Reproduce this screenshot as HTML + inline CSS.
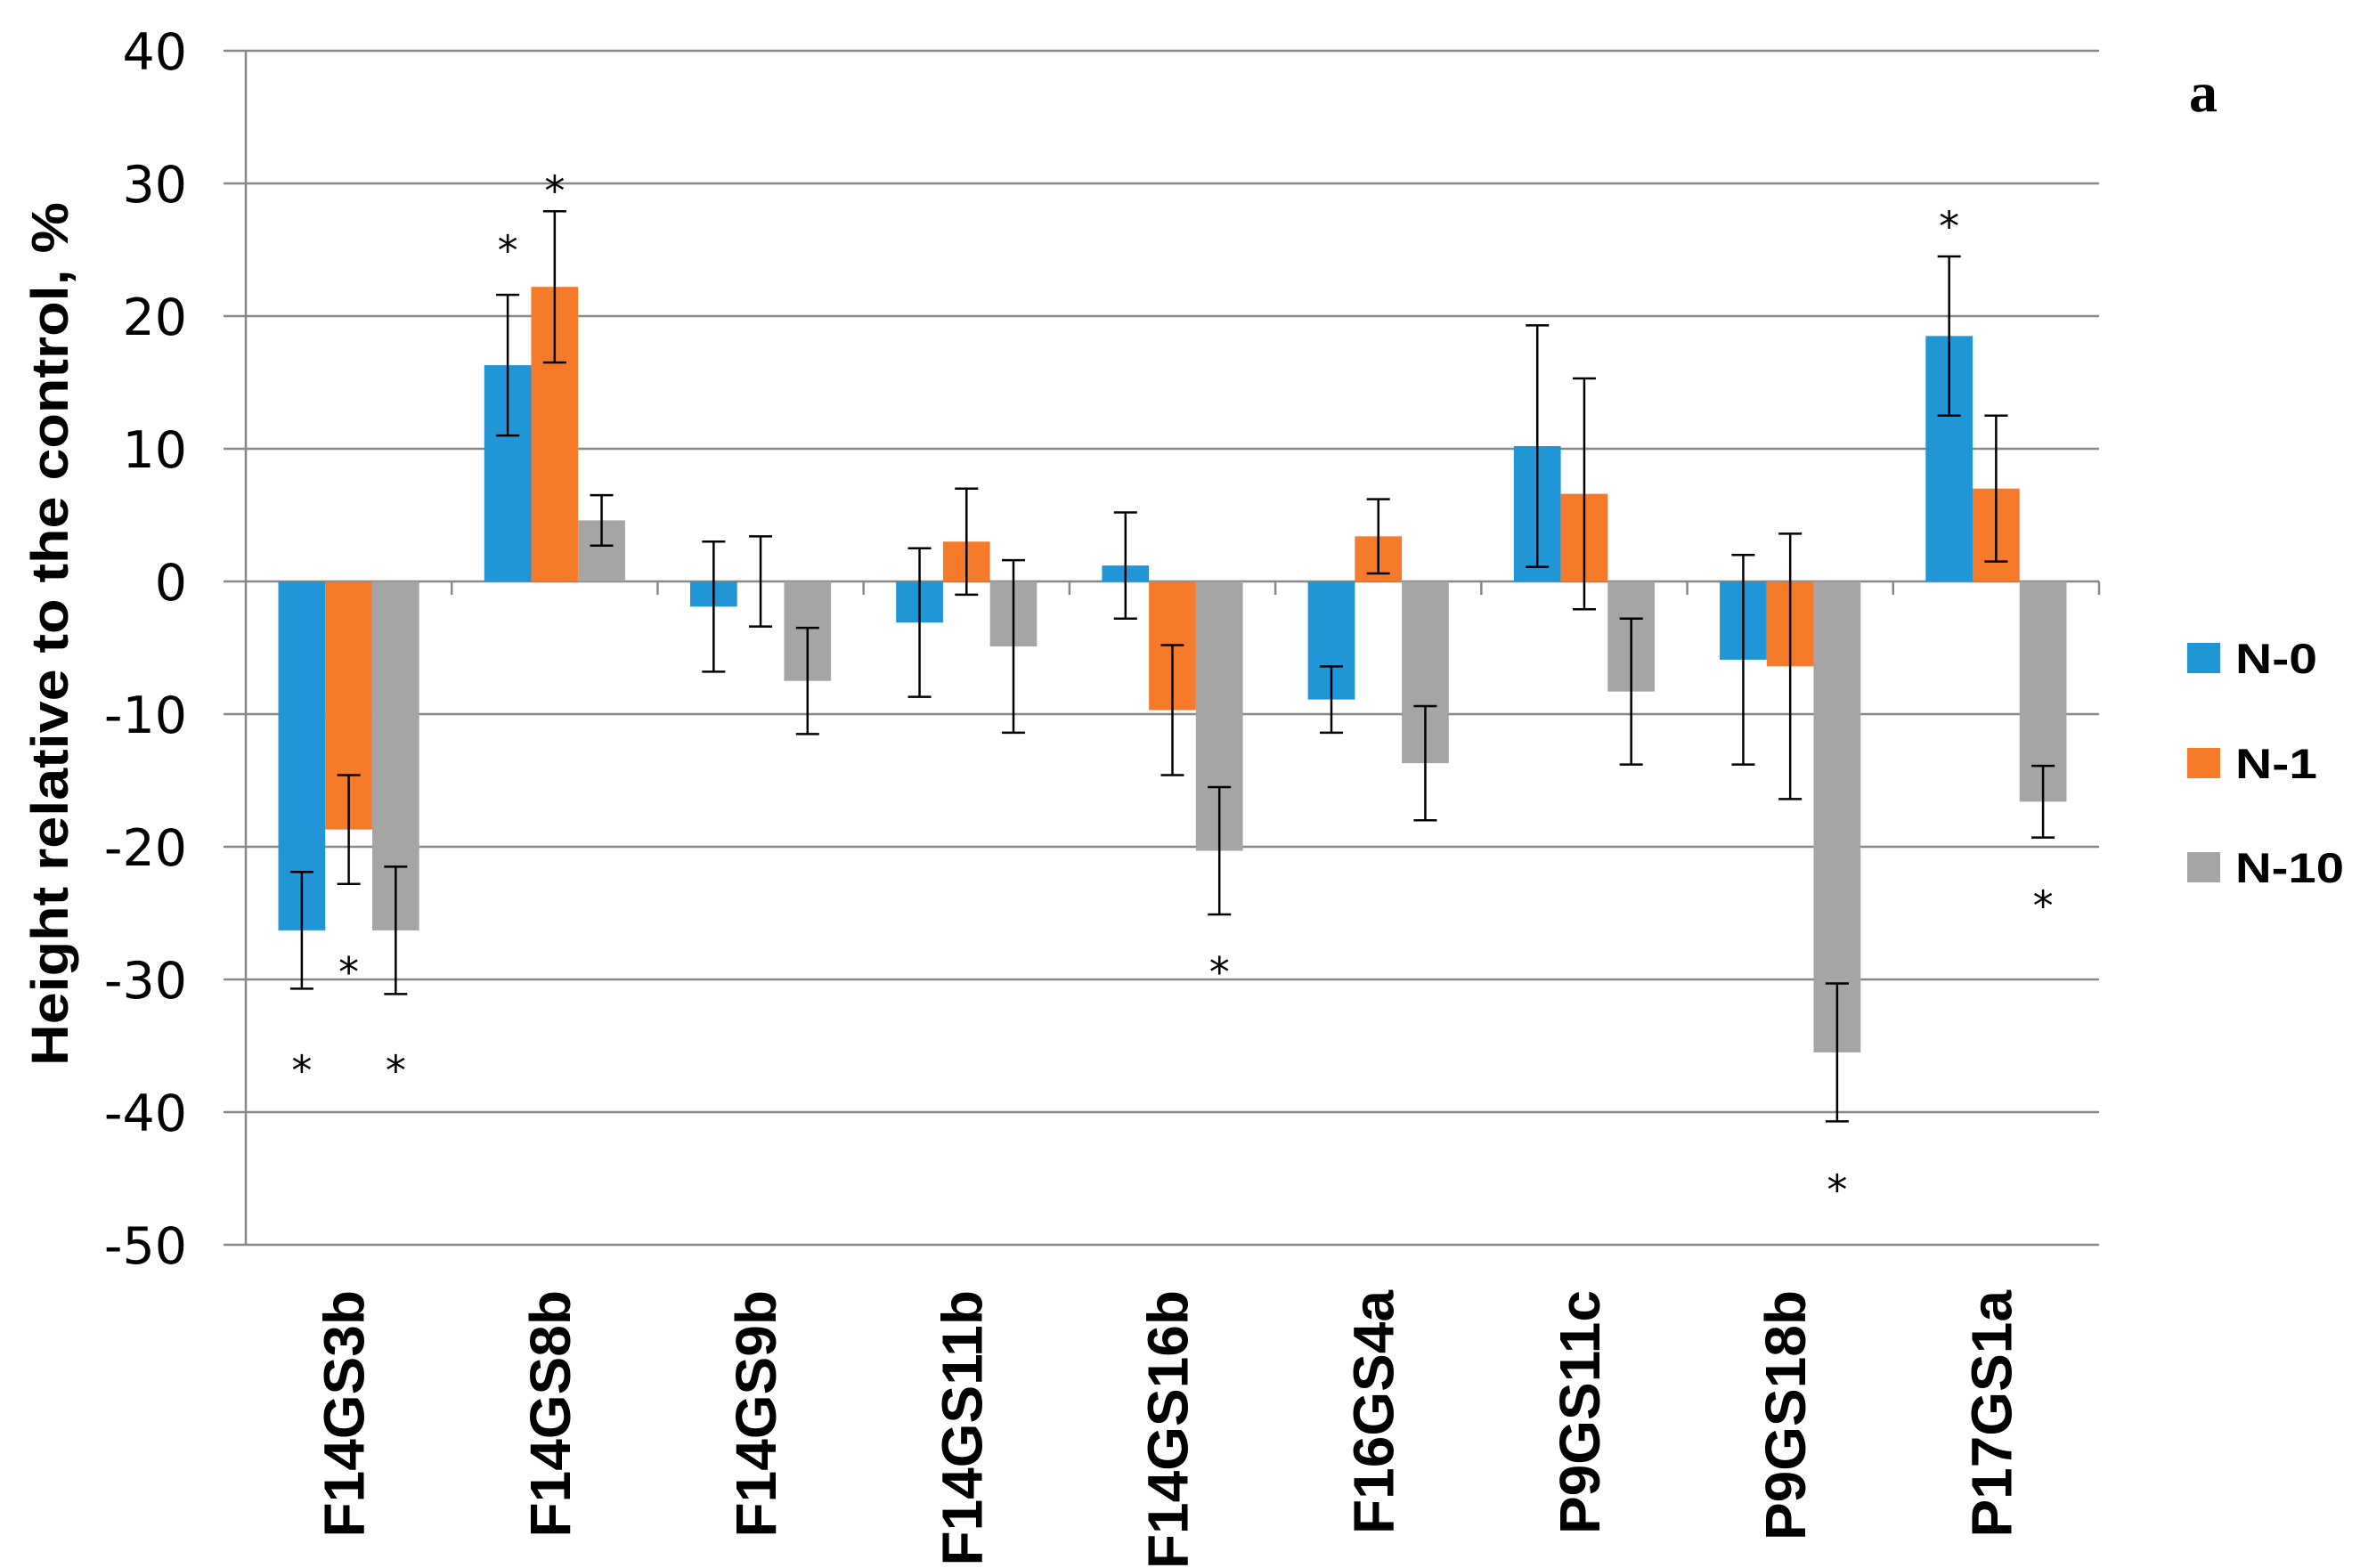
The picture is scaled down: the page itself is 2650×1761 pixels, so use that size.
<!DOCTYPE html>
<html><head><meta charset="utf-8">
<style>
html,body{margin:0;padding:0;background:#fff;}
svg{display:block;}
</style></head>
<body>
<svg id="chart" width="2650" height="1761" viewBox="0 0 2650 1761" xmlns="http://www.w3.org/2000/svg">
<rect width="2650" height="1761" fill="#fff"/>
<g id="grid"></g>
<g id="bars"></g>
<g id="errs"></g>
<g id="stars"></g>
<g id="axes"></g>
<text x="0" y="0" transform="translate(76,712) rotate(-90)" text-anchor="middle" font-family="'Liberation Sans', sans-serif" font-weight="bold" font-size="58" textLength="970" lengthAdjust="spacingAndGlyphs">Height relative to the control, %</text>
<text x="2458" y="125" font-family="'Liberation Serif', serif" font-weight="bold" font-size="64">a</text>
<g>
<rect x="2456" y="722" width="37" height="34" fill="#2196d6"/>
<text x="2510" y="756" font-family="'Liberation Sans', sans-serif" font-weight="bold" font-size="47" textLength="92" lengthAdjust="spacingAndGlyphs">N-0</text>
<rect x="2456" y="840" width="37" height="34" fill="#f57a2a"/>
<text x="2510" y="874" font-family="'Liberation Sans', sans-serif" font-weight="bold" font-size="47" textLength="92" lengthAdjust="spacingAndGlyphs">N-1</text>
<rect x="2456" y="957" width="37" height="34" fill="#a5a5a5"/>
<text x="2510" y="991" font-family="'Liberation Sans', sans-serif" font-weight="bold" font-size="47" textLength="122" lengthAdjust="spacingAndGlyphs">N-10</text>
</g>
</svg>
<script>
const categories = ["F14GS3b","F14GS8b","F14GS9b","F14GS11b","F14GS16b","F16GS4a","P9GS11c","P9GS18b","P17GS1a"];
const seriesNames = ["N-0","N-1","N-10"];
const n0Values = [-26.3, 16.3, -1.9, -3.1, 1.2, -8.9, 10.2, -5.9, 18.5];
const n1Values = [-18.7, 22.2, 0.0, 3.0, -9.7, 3.4, 6.6, -6.4, 7.0];
const n10Values = [-26.3, 4.6, -7.5, -4.9, -20.3, -13.7, -8.3, -35.5, -16.6];
const n0Errors = [4.4, 5.3, 4.9, 5.6, 4.0, 2.5, 9.1, 7.9, 6.0];
const n1Errors = [4.1, 5.7, 3.4, 4.0, 4.9, 2.8, 8.7, 10.0, 5.5];
const n10Errors = [4.8, 1.9, 4.0, 6.5, 4.8, 4.3, 5.5, 5.2, 2.7];
const starCategory = [0, 0, 0, 1, 1, 4, 7, 8, 8];
const starSeries = [0, 1, 2, 0, 1, 2, 2, 0, 2];
const starValues = [-36.2, -28.8, -36.2, 25.6, 30.1, -28.8, -45.2, 27.4, -23.8];
const yTicks = [40, 30, 20, 10, 0, -10, -20, -30, -40, -50];

const NS = "http://www.w3.org/2000/svg";
const X0 = 276, X1 = 2357, Y_TOP = 57, Y_BOT = 1398, VMAX = 40, VMIN = -50;
const colors = ["#2196d6", "#f57a2a", "#a5a5a5"];
const catW = (X1 - X0) / categories.length;
const barW = catW * 0.228;
function y(v){ return Y_TOP + (VMAX - v) / (VMAX - VMIN) * (Y_BOT - Y_TOP); }
function xBar(ci, si){ return X0 + ci * catW + (catW - 3 * barW) / 2 + si * barW; }
function mk(tag, attrs, parent){ const e = document.createElementNS(NS, tag); for (const k in attrs) e.setAttribute(k, attrs[k]); parent.appendChild(e); return e; }
const grid = document.getElementById("grid"), bars = document.getElementById("bars"), errs = document.getElementById("errs"), stars = document.getElementById("stars"), axes = document.getElementById("axes");

yTicks.forEach(t => {
  const l = mk("line", {x1: 251, x2: X1, y1: y(t), y2: y(t), stroke: "#888", "stroke-width": 2.5}, grid);
  
  
  const tx = mk("text", {x: 210, y: y(t) + 21, "text-anchor": "end", "font-family": "'DejaVu Sans', sans-serif", "font-size": 57}, axes);
  
  
  tx.textContent = t;
});
const ax = mk("line", {x1: X0, x2: X0, y1: Y_TOP, y2: Y_BOT, stroke: "#888", "stroke-width": 2.5}, axes);


for (let i = 1; i <= categories.length; i++) {
  const tk = mk("line", {x1: X0 + i * catW, x2: X0 + i * catW, y1: y(0), y2: y(0) + 15, stroke: "#888", "stroke-width": 2.5}, axes);
  
  
}
categories.forEach((c, ci) => {
  const cx = X0 + (ci + 0.5) * catW + 3;
  const tx = mk("text", {x: 0, y: 0, transform: `translate(${cx + 14},1449) rotate(-90)`, "text-anchor": "end", "font-family": "'Liberation Sans', sans-serif", "font-weight": "bold", "font-size": 64}, axes);
  
  
  tx.textContent = c;
});

const vals = [n0Values, n1Values, n10Values], errsArr = [n0Errors, n1Errors, n10Errors];
vals.forEach((arr, si) => {
  arr.forEach((v, ci) => {
    const bx = xBar(ci, si);
    const r = mk("rect", {x: bx, y: Math.min(y(v), y(0)), width: barW, height: Math.abs(y(v) - y(0)), fill: colors[si]}, bars);
    
    
    const e = errsArr[si][ci], mx = bx + barW / 2;
    const g = mk("g", {stroke: "#000", "stroke-width": 2.5}, errs);
    
    
    mk("line", {x1: mx, x2: mx, y1: y(v + e), y2: y(v - e)}, g);
    mk("line", {x1: mx - 13, x2: mx + 13, y1: y(v + e), y2: y(v + e)}, g);
    mk("line", {x1: mx - 13, x2: mx + 13, y1: y(v - e), y2: y(v - e)}, g);
  });
});
starValues.forEach((v, i) => {
  const mx = xBar(starCategory[i], starSeries[i]) + barW / 2;
  const s = mk("text", {x: mx, y: y(v) + 26, "text-anchor": "middle", "font-family": "'DejaVu Sans', sans-serif", "font-size": 46}, stars);
  
  
  s.textContent = "*";
});
</script>
</body></html>
